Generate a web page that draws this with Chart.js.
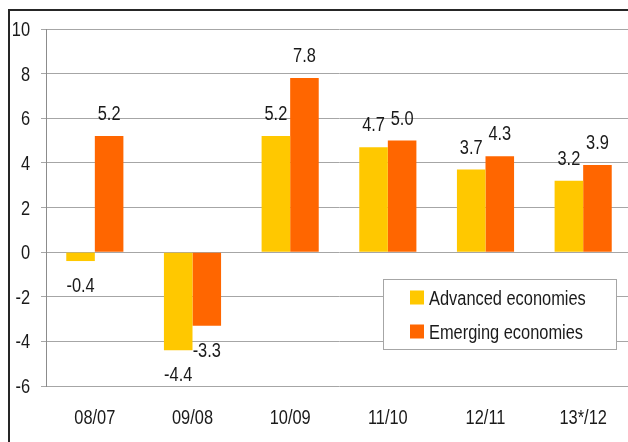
<!DOCTYPE html>
<html>
<head>
<meta charset="utf-8">
<script src="https://cdn.jsdelivr.net/npm/chart.js@4/dist/chart.umd.min.js"></script>
<style>
html,body{margin:0;padding:0;background:#fff;overflow:hidden;width:628px;height:442px;}
#wrap{position:absolute;left:0;top:0;width:640px;height:442px;}
</style>
</head>
<body>
<div id="wrap"><canvas id="c" width="640" height="442"></canvas></div>
<script>
const categories = ['08/07', '09/08', '10/09', '11/10', '12/11', '13*/12'];
const advanced = [-0.4, -4.4, 5.2, 4.7, 3.7, 3.2];
const emerging = [5.2, -3.3, 7.8, 5.0, 4.3, 3.9];
const seriesNames = ['Advanced economies', 'Emerging economies'];
const yTicks = [-6, -4, -2, 0, 2, 4, 6, 8, 10];

const FONT = "'Liberation Sans', Arial, sans-serif";
const TEXT = '#1a1a1a';
const NARROW = 0.82;

function narrowText(ctx, text, x, y, align) {
  ctx.save();
  ctx.translate(x, y);
  ctx.scale(NARROW, 1);
  ctx.textAlign = align;
  ctx.fillText(text, 0, 0);
  ctx.restore();
}

const valueLabels = {
  id: 'valueLabels',
  afterDatasetsDraw(chart) {
    const ctx = chart.ctx;
    ctx.save();
    ctx.font = '20px ' + FONT;
    ctx.fillStyle = TEXT;
    ctx.textBaseline = 'alphabetic';
    chart.data.datasets.forEach((ds, di) => {
      const meta = chart.getDatasetMeta(di);
      meta.data.forEach((bar, i) => {
        const v = ds.data[i];
        const y = v >= 0 ? bar.y - 16 : bar.y + 31;
        narrowText(ctx, v.toFixed(1), bar.x, y, 'center');
      });
    });
    ctx.restore();
  }
};

const axisText = {
  id: 'axisText',
  afterDraw(chart) {
    const ctx = chart.ctx;
    const ys = chart.scales.y, xs = chart.scales.x;
    ctx.save();
    ctx.font = '20px ' + FONT;
    ctx.fillStyle = TEXT;
    ctx.textBaseline = 'alphabetic';
    ys.ticks.forEach(t => {
      narrowText(ctx, String(t.value), ys.right - 16, ys.getPixelForValue(t.value) + 7, 'right');
    });
    chart.data.labels.forEach((lab, i) => {
      narrowText(ctx, lab, xs.getPixelForTick(i), chart.chartArea.bottom + 38, 'center');
    });
    ctx.restore();
  }
};

const boxLegend = {
  id: 'boxLegend',
  afterDraw(chart) {
    const ctx = chart.ctx;
    const x0 = 383.5, y0 = 279.5, w = 233, h = 70;
    ctx.save();
    ctx.fillStyle = '#fff';
    ctx.fillRect(x0, y0, w, h);
    ctx.strokeStyle = '#a6a6a6';
    ctx.lineWidth = 1;
    ctx.strokeRect(x0, y0, w, h);
    ctx.font = '20px ' + FONT;
    ctx.textBaseline = 'alphabetic';
    chart.data.datasets.forEach((ds, i) => {
      const cy = y0 + 18 + i * 34;
      ctx.fillStyle = ds.backgroundColor;
      ctx.fillRect(410, cy - 7, 14, 14);
      ctx.fillStyle = TEXT;
      narrowText(ctx, ds.label, 429, cy + 7, 'left');
    });
    // outer frame
    ctx.strokeStyle = '#262626';
    ctx.lineWidth = 2;
    ctx.beginPath();
    ctx.moveTo(9, chart.height + 10);
    ctx.lineTo(9, 10);
    ctx.lineTo(chart.width + 10, 10);
    ctx.stroke();
    ctx.restore();
  }
};

new Chart(document.getElementById('c'), {
  type: 'bar',
  data: {
    labels: categories,
    datasets: [
      { label: seriesNames[0], data: advanced, backgroundColor: '#FFC800', borderWidth: 0 },
      { label: seriesNames[1], data: emerging, backgroundColor: '#FF6600', borderWidth: 0 }
    ]
  },
  options: {
    responsive: false,
    animation: false,
    devicePixelRatio: 1,
    layout: { padding: { left: 0, right: 8, top: 29, bottom: 0 } },
    datasets: { bar: { categoryPercentage: 0.585, barPercentage: 1.0 } },
    plugins: { legend: { display: false }, tooltip: { enabled: false } },
    scales: {
      x: {
        afterFit(scale) { scale.height = 56; },
        grid: { display: false },
        border: { display: false },
        ticks: { color: 'rgba(0,0,0,0)', font: { family: FONT, size: 20 }, padding: 19, maxRotation: 0 }
      },
      y: {
        min: -6, max: 10,
        afterFit(scale) { scale.width = 46; },
        afterBuildTicks(scale) { scale.ticks = yTicks.map(v => ({ value: v })); },
        grid: { color: '#a6a6a6', lineWidth: 1, tickLength: 5, drawTicks: true },
        border: { display: true, color: '#8c8c8c', width: 1 },
        ticks: { color: 'rgba(0,0,0,0)', font: { family: FONT, size: 20 }, padding: 10 }
      }
    }
  },
  plugins: [valueLabels, axisText, boxLegend]
});
</script>
</body>
</html>
